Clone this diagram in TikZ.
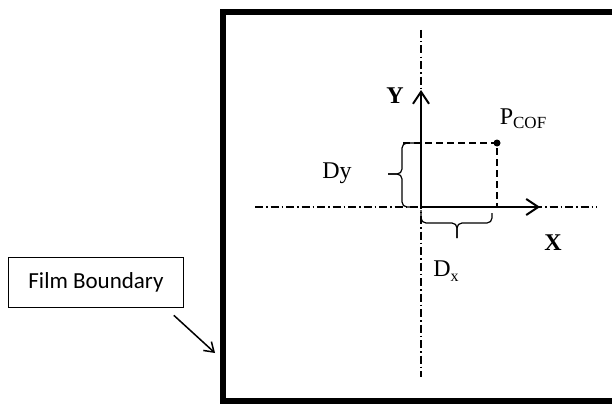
\documentclass[tikz,border=0pt]{standalone}
\usepackage{fontspec}
\setmainfont{Liberation Serif}
\newfontfamily\filmfont{Carlito}
\usetikzlibrary{arrows.meta}

\begin{document}
\begin{tikzpicture}[x=1pt, y=-1pt,
		axisline/.style={line width=2pt, -{Straight Barb[length=12pt, width=16pt, line width=2pt]}},
		centerline/.style={line width=1.3pt, dash pattern=on 8pt off 3pt on 1.5pt off 3pt},
		guideline/.style={line width=1.5pt, dash pattern=on 7pt off 4pt},
		curly/.style={line width=1.2pt, rounded corners=5pt},
		lbl/.style={inner sep=0pt, font=\fontsize{24}{26}\selectfont}]
		\useasboundingbox (0,0) rectangle (612,404);
		% film frame, cut off on the right
		\draw [line width=6pt, line join=miter] (612,12) -- (223,12) -- (223,401) -- (612,401);
		\coordinate (o) at (421,207);
		\coordinate (p) at (497,143);
		\coordinate (vtop) at (421,30);
		\coordinate (vbot) at (421,377);
		\coordinate (hleft) at (255,207);
		\coordinate (hright) at (597,207);
		\coordinate (ytip) at (421,90);
		\coordinate (xtip) at (540,207);
		\coordinate (dyend) at (403,143);
		\coordinate (dxend) at (497,207);
		\draw [centerline] (vtop) -- (vbot);
		\draw [centerline] (hleft) -- (hright);
		\draw [axisline] (o) -- (ytip);
		\draw [axisline] (o) -- (xtip);
		\draw [guideline] (dyend) -- (p) -- (dxend);
		\fill (p) circle (3.5pt);
		% braces
		\coordinate (dytip) at (388,174);
		\coordinate (dxtip) at (457,238);
		\draw [curly] (415,143) -- (402,143) -- (402,174) -- (dytip);
		\draw [curly] (415,207) -- (402,207) -- (402,174) -- (dytip);
		\draw [curly] (421,210) -- (421,223) -- (457,223) -- (dxtip);
		\draw [curly] (492,213) -- (492,223) -- (457,223) -- (dxtip);
		\node [lbl] (ylab) at (395,96) {\bfseries Y};
		\node [lbl] (xlab) at (553,243) {\bfseries X};
		\node [lbl] (pcof) at (523,119) {P\raisebox{-0.35ex}{\fontsize{17}{17}\selectfont COF}};
		\node [lbl] (dy) at (337,173) {Dy};
		\node [lbl] (dx) at (446,271) {D\raisebox{-0.4ex}{\fontsize{16}{16}\selectfont x}};
		% label box with its pointer
		\node [draw, line width=0.6pt, minimum width=175pt, minimum height=50pt,
			font=\filmfont\fontsize{23}{25}\selectfont] (film) at (96,282) {Film Boundary};
		\coordinate (ptr) at (215,353);
		\draw [line width=1.5pt, -{Straight Barb[length=9pt, width=12pt, line width=1.5pt]}] ([shift={(-10,8)}]film.south east) -- (ptr);
	\end{tikzpicture}
\end{document}
